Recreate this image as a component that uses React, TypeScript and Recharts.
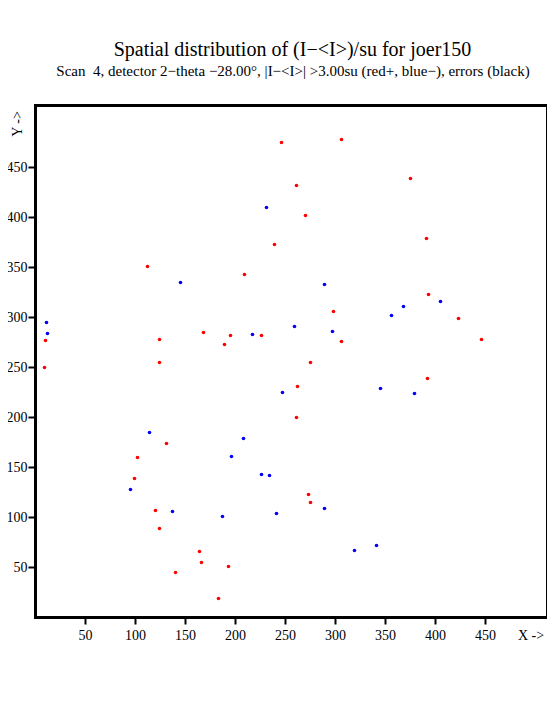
import React from "react";
import { ScatterChart, Scatter, XAxis, YAxis, ReferenceArea } from "recharts";

const redX = [246, 306, 375, 261, 270, 391, 239, 112, 209, 393, 298, 423, 168, 124, 10, 195, 226, 189, 306, 446, 9, 124, 275, 262, 392, 261, 131, 102, 99, 273, 275, 120, 124, 164, 166, 193, 140, 183];
const redY = [475, 478, 439, 432, 402, 379, 373, 351, 343, 323, 306, 299, 285, 278, 277, 282, 282, 273, 276, 278, 250, 255, 255, 231, 239, 200, 174, 160, 139, 123, 115, 107, 89, 66, 55, 51, 45, 19];
const blueX = [231, 145, 289, 405, 368, 356, 11, 12, 259, 297, 217, 247, 345, 379, 114, 208, 196, 226, 234, 95, 137, 187, 241, 289, 341, 319];
const blueY = [410, 335, 333, 316, 311, 302, 295, 284, 291, 286, 283, 225, 229, 224, 185, 179, 161, 143, 142, 128, 106, 101, 104, 109, 72, 67];
const xTicks = [50, 100, 150, 200, 250, 300, 350, 400, 450];
const yTicks = [50, 100, 150, 200, 250, 300, 350, 400, 450];

const redData = redX.map((x, i) => ({ x, y: redY[i] }));
const blueData = blueX.map((x, i) => ({ x, y: blueY[i] }));

const FONT = "'Liberation Serif', 'DejaVu Serif', serif";

const Dot = (color: string) => (props: any) => {
  const { cx, cy } = props;
  if (cx == null || cy == null) return null;
  return <circle cx={cx} cy={cy} r={1.8} fill={color} />;
};

export default function App() {
  return (
    <div style={{ position: "relative", margin: "-8px", width: 555, height: 725, background: "#fff", fontFamily: FONT }}>
      <div style={{ position: "absolute", left: 0, width: 585, top: 38, textAlign: "center", fontSize: 20, color: "#000", whiteSpace: "pre" }}>
        Spatial distribution of (I−&lt;I&gt;)/su for joer150
      </div>
      <div style={{ position: "absolute", left: 0, width: 586, top: 63, textAlign: "center", fontSize: 15, color: "#000", whiteSpace: "pre" }}>
        {"Scan  4, detector 2−theta −28.00°, |I−<I>| >3.00su (red+, blue−), errors (black)"}
      </div>
      <div style={{ position: "absolute", left: 10, top: 116, width: 16, height: 16, fontSize: 14, color: "#000", whiteSpace: "nowrap", transform: "rotate(-90deg)", transformOrigin: "center", display: "flex", alignItems: "center", justifyContent: "center" }}>
        Y -&gt;
      </div>
      <div style={{ position: "absolute", left: 518, top: 628, fontSize: 14, color: "#000", whiteSpace: "nowrap" }}>
        X -&gt;
      </div>
      <ScatterChart
        width={555}
        height={725}
        margin={{ top: 105.5, left: 5.5, right: 7.5, bottom: 77.5 }}
        style={{ position: "absolute", left: 0, top: 0 }}
      >
        <XAxis
          type="number"
          dataKey="x"
          domain={[0, 512]}
          ticks={xTicks}
          allowDataOverflow
          axisLine={false}
          tickLine={{ stroke: "#000", strokeWidth: 2 }}
          tickSize={7}
          tickMargin={6}
          height={30}
          tick={{ fill: "#000", fontSize: 14, fontFamily: FONT }}
        />
        <YAxis
          type="number"
          dataKey="y"
          domain={[0, 512]}
          ticks={yTicks}
          allowDataOverflow
          axisLine={false}
          tickLine={{ stroke: "#000", strokeWidth: 2 }}
          tickSize={7}
          tickMargin={1}
          width={30}
          tick={{ fill: "#000", fontSize: 14, fontFamily: FONT }}
        />
        <ReferenceArea x1={0} x2={512} y1={0} y2={512} fill="none" stroke="#000" strokeWidth={3} ifOverflow="visible" />
        <Scatter data={redData} fill="#ff0000" shape={Dot("#ff0000")} isAnimationActive={false} />
        <Scatter data={blueData} fill="#0000ff" shape={Dot("#0000ff")} isAnimationActive={false} />
      </ScatterChart>
    </div>
  );
}
